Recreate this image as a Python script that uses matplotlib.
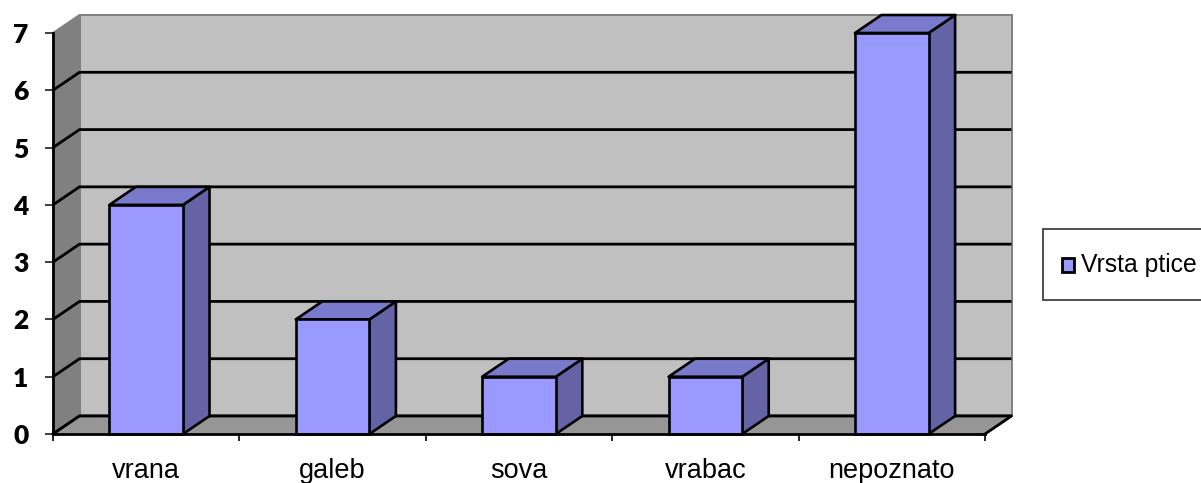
import matplotlib
matplotlib.use("Agg")
import matplotlib.pyplot as plt
from matplotlib.patches import Polygon, Rectangle
from matplotlib.ticker import FixedLocator, NullFormatter, FixedFormatter

plt.rcParams['font.family'] = ['Liberation Sans', 'DejaVu Sans']

# data
categories = ["vrana", "galeb", "sova", "vrabac", "nepoznato"]
counts = [4, 2, 1, 1, 7]
y_ticks = [0, 1, 2, 3, 4, 5, 6, 7]
series_name = "Vrsta ptice"

W, H = 1201, 483
fig = plt.figure(figsize=(W / 100, H / 100), dpi=100)
fig.patch.set_facecolor("white")

# front plane of the plot in pixels (left, bottom, width, height)
ax = fig.add_axes([53 / W, 49 / H, 932 / W, 401 / H])
n = len(categories)
x0, x1 = -0.5, n - 0.5
ymax = y_ticks[-1]
ax.set_xlim(x0, x1)
ax.set_ylim(0, ymax)
ax.patch.set_visible(False)

# depth offset of the 3-D box, in data units
dx = 26.5 / (932 / n)
dy = 18.0 / (401 / ymax)

wall_edge = "#808080"

# left side wall
ax.add_patch(Polygon([(x0, 0), (x0 + dx, dy), (x0 + dx, ymax + dy), (x0, ymax)],
                     closed=True, facecolor="#808080", edgecolor=wall_edge,
                     lw=1.4, clip_on=False, zorder=1))
# back wall
ax.add_patch(Polygon([(x0 + dx, dy), (x1 + dx, dy), (x1 + dx, ymax + dy), (x0 + dx, ymax + dy)],
                     closed=True, facecolor="#C0C0C0", edgecolor=wall_edge,
                     lw=1.4, clip_on=False, zorder=1))

# gridlines across the back wall and the side wall
for t in y_ticks[:-1]:
    ax.plot([x0, x0 + dx, x1 + dx], [t, t + dy, t + dy], color="black",
            lw=2.0, clip_on=False, zorder=2, solid_capstyle="butt")

# floor
ax.add_patch(Polygon([(x0, 0), (x1, 0), (x1 + dx, dy), (x0 + dx, dy)],
                     closed=True, facecolor="#969696", edgecolor="none",
                     clip_on=False, zorder=2.1))
ax.plot([x0, x0 + dx, x1 + dx, x1], [0, dy, dy, 0], color="black",
        lw=2.0, clip_on=False, zorder=2.2)

# bars
bw = 0.395
front_c, top_c, side_c = "#9999FF", "#7A7ACC", "#6363A6"
for i, v in enumerate(counts):
    l, r = i - bw / 2, i + bw / 2
    ax.add_patch(Polygon([(r, 0), (r + dx, dy), (r + dx, v + dy), (r, v)], closed=True,
                         facecolor=side_c, edgecolor="black", lw=1.9,
                         clip_on=False, zorder=3, joinstyle="round"))
    ax.add_patch(Polygon([(l, v), (r, v), (r + dx, v + dy), (l + dx, v + dy)], closed=True,
                         facecolor=top_c, edgecolor="black", lw=1.9,
                         clip_on=False, zorder=3, joinstyle="round"))
    ax.add_patch(Rectangle((l, 0), bw, v, facecolor=front_c, edgecolor="black",
                           lw=1.9, clip_on=False, zorder=3.1, joinstyle="round"))

# axes lines and ticks
for s in ("top", "right"):
    ax.spines[s].set_visible(False)
for s in ("left", "bottom"):
    ax.spines[s].set_color("black")
    ax.spines[s].set_linewidth(2.0)
    ax.spines[s].set_zorder(4)

ax.set_yticks(y_ticks)
ax.set_yticklabels([str(t) for t in y_ticks], fontfamily="Lato",
                   fontweight="heavy", fontsize=19)
ax.tick_params(axis="y", direction="out", length=5.8, width=1.3,
               pad=12.0, color="#303030")

ax.xaxis.set_major_locator(FixedLocator([x0 + k for k in range(n + 1)]))
ax.xaxis.set_major_formatter(NullFormatter())
ax.xaxis.set_minor_locator(FixedLocator(list(range(n))))
ax.xaxis.set_minor_formatter(FixedFormatter(categories))
ax.tick_params(axis="x", which="major", direction="out", length=5.0,
               width=1.2, color="black")
ax.tick_params(axis="x", which="minor", length=0, pad=17.0, labelsize=19.5)

# legend box
fig.add_artist(Rectangle((1043 / W, (H - 300) / H), 200 / W, 71 / H,
                         transform=fig.transFigure, facecolor="white",
                         edgecolor="#404040", lw=1.3))
fig.add_artist(Rectangle((1062 / W, (H - 272) / H), 12 / W, 14 / H,
                         transform=fig.transFigure, facecolor=front_c,
                         edgecolor="black", lw=2.0))
fig.text(1081 / W, (H - 265) / H, series_name, fontsize=17.8,
         va="center", ha="left")

fig.savefig("out.png", dpi=100)
